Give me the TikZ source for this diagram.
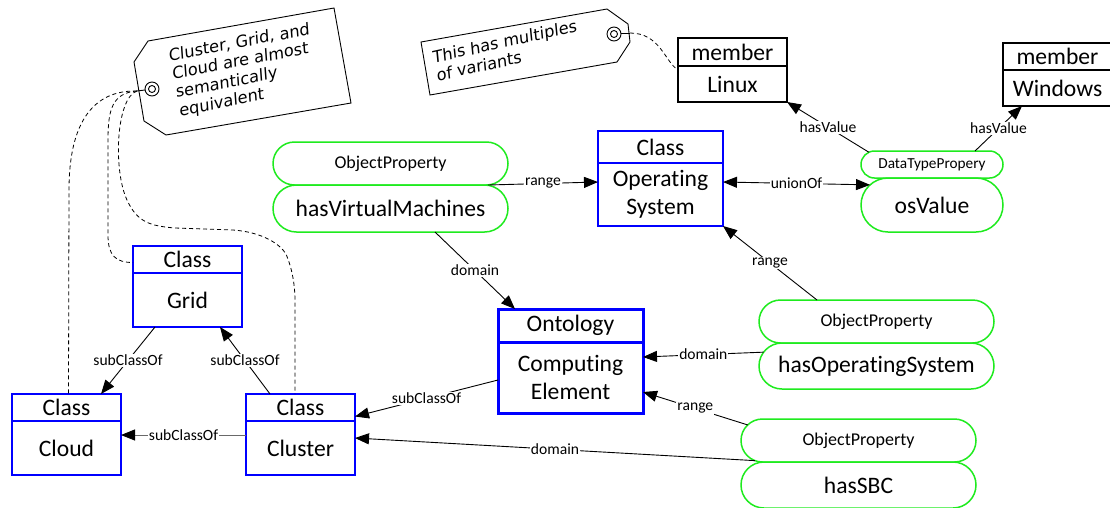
\documentclass[tikz,border=0pt]{standalone}
\usepackage{fontspec}
\setmainfont{Carlito}[Ligatures={NoCommon}]
\newfontfamily\handfont{DejaVu Sans}[FakeSlant=0.12]
\usetikzlibrary{arrows.meta,shapes.misc}

\definecolor{umlblue}{RGB}{0,0,255}
\definecolor{propgreen}{RGB}{30,235,30}
\definecolor{linkgray}{RGB}{105,105,105}

\tikzset{
  bigtxt/.style={font=\fontsize{23.6}{27.5}\selectfont},
  hdr/.style={draw=umlblue, line width=1.5pt, minimum width=109pt,
    inner sep=0pt, outer sep=0pt, bigtxt, align=center},
  ontobox/.style={hdr, line width=3pt, minimum width=145pt},
  memberbox/.style={hdr, draw=black},
  pill/.style={rounded rectangle, draw=propgreen, line width=1.5pt,
    inner sep=0pt, outer sep=0pt, minimum width=235pt},
  kindtxt/.style={font=\fontsize{18}{20}\selectfont},
  tip/.style={Triangle[length=14pt,width=11pt]},
  rel/.style={-{Triangle[length=14pt,width=11pt]}, line width=0.9pt},
  relboth/.style={{Triangle[length=14pt,width=11pt]}-{Triangle[length=14pt,width=11pt]}, line width=0.9pt},
  lbl/.style={font=\fontsize{15.6}{18}\selectfont, fill=white, inner sep=1pt},
  tagshape/.style={draw=black, line width=0.9pt, fill=white},
  tagline/.style={draw=black, line width=0.8pt, dash pattern=on 4pt off 3pt},
  tagtext/.style={font=\handfont\fontsize{16.3}{18.5}\selectfont,
    align=left, inner sep=0pt}
}

\begin{document}
\begin{tikzpicture}[x=1pt,y=-1pt]
\useasboundingbox (0,0) rectangle (1110,507);
\clip (0,0) rectangle (1110,507);
\fill[white] (0,0) rectangle (1110,507);

% ---- class boxes ----
\node[hdr, minimum height=27pt] (gridH) at (187.5,259.5) {Class};
\node[hdr, minimum height=54pt] (gridB) at (187.5,300) {Grid};
\node[hdr, minimum height=27pt] (cloudH) at (66.5,407.5) {Class};
\node[hdr, minimum height=54pt] (cloudB) at (66.5,448) {Cloud};
\node[hdr, minimum height=27pt] (clH) at (300.5,407.5) {Class};
\node[hdr, minimum height=54pt] (clB) at (300.5,448) {Cluster};
\node[hdr, minimum width=125pt, minimum height=32pt] (osH) at (660.5,147) {Class};
\node[hdr, minimum width=125pt, minimum height=63pt] (osB) at (660.5,194.5) {Operating\\System};
\node[ontobox, minimum height=33pt] (ontH) at (570.5,325.5) {Ontology};
\node[ontobox, minimum height=71pt] (ontB) at (570.5,377.5) {Computing\\Element};

% ---- enumeration members ----
\node[memberbox, minimum height=28pt] (linH) at (732.5,52) {member};
\node[memberbox, minimum height=36pt] (linB) at (732.5,84) {Linux};
\node[memberbox, minimum height=27pt] (winH) at (1057.5,56.5) {member};
\node[memberbox, minimum height=36pt] (winB) at (1057.5,88) {Windows};

% ---- properties ----
\node[pill, minimum height=43pt, kindtxt] (hvmT) at (390.5,163.5) {ObjectProperty};
\node[pill, minimum height=47pt, bigtxt] (hvmB) at (390.5,208.5) {hasVirtualMachines};
\node[pill, minimum width=142pt, minimum height=27pt, font=\fontsize{15.3}{17}\selectfont] (dtp) at (932,164.5) {DataTypePropery};
\node[pill, minimum width=142pt, minimum height=54pt, bigtxt] (osV) at (932,205) {osValue};
\node[pill, minimum height=43pt, kindtxt] (hosT) at (876.5,321.5) {ObjectProperty};
\node[pill, minimum height=46pt, bigtxt] (hosB) at (876.5,366) {hasOperatingSystem};
\node[pill, minimum height=43pt, kindtxt] (sbcT) at (858.5,440.5) {ObjectProperty};
\node[pill, minimum height=46pt, bigtxt] (sbcB) at (858.5,485) {hasSBC};

% ---- relations ----
\draw[rel] ([xshift=97.5pt]hvmT.south) -- node[lbl]{range} ([yshift=12.5pt]osB.west);
\draw[rel] ([xshift=44.5pt]hvmB.south) -- node[lbl]{domain} ([xshift=-55.5pt]ontH.north);
\draw[relboth] ([yshift=12.5pt]osB.east) -- node[lbl]{unionOf} (osV.162);
\draw[rel] (dtp.169) -- node[lbl]{hasValue} (linB.south east);
\draw[rel] ([xshift=43pt]dtp.north) -- node[lbl]{hasValue} ([xshift=19pt]winB.south west);
\draw[rel] ([xshift=-59.5pt]hosT.north) -- node[lbl]{range} (osB.south east);
\draw[rel] (hosB.173) -- node[lbl]{domain} ([yshift=20.5pt]ontB.east);
\draw[rel] (sbcT.172) -- node[lbl]{range} ([yshift=-14.5pt]ontB.east);
\draw[rel] (sbcT.191) -- node[lbl]{domain} ([yshift=10pt]clB.east);
\draw[rel] ([yshift=-2.5pt]ontB.west) -- node[lbl]{subClassOf} ([yshift=-9pt]clH.east);
\draw[rel, draw=linkgray, -{Triangle[length=14pt,width=11pt,color=black]}]
  ([yshift=13pt]clB.west) -- node[lbl]{subClassOf} ([yshift=13pt]cloudB.east);
\draw[rel] ([xshift=-32.5pt]gridB.south) -- node[lbl]{subClassOf} ([xshift=34.5pt]cloudH.north);
\draw[rel] ([xshift=-30.5pt]clH.north) -- node[lbl]{subClassOf} ([xshift=32.5pt]gridB.south);

% ---- note tags ----
\draw[tagshape] (148,41) -- (334,8) -- (351,103) -- (166,135) -- (144,121) -- (134,62) -- cycle;
\draw[line width=0.9pt] (152,89) circle[radius=7pt];
\draw[line width=0.9pt] (152,89) circle[radius=3.5pt];
\coordinate (hole1) at (137,91);
\draw[line width=0.9pt] (145,90) -- (hole1);
\node[tagtext, rotate=11, anchor=north west] (note1) at (166.7,49.2)
  {Cluster, Grid, and\\Cloud are almost\\semantically\\equivalent};

\draw[tagshape] (421,42) -- (607,9) -- (628,24) -- (630,42) -- (617,62) -- (430,95) -- cycle;
\draw[line width=0.9pt] (614,34) circle[radius=7pt];
\draw[line width=0.9pt] (614,34) circle[radius=3.5pt];
\coordinate (hole2) at (630,33);
\draw[line width=0.9pt] (621,33) -- (hole2);
\node[tagtext, rotate=12.5, anchor=north west] (note2) at (430.4,51.1)
  {This has multiples\\of variants};

% ---- note attachments ----
\draw[tagline] (hole1) .. controls (95,90) and (69,120) .. (69,190) -- ([xshift=2pt]cloudH.north);
\draw[tagline] (hole1) .. controls (112,93) and (108,110) .. (108,140) -- (108,235)
  .. controls (108,256) and (116,262.5) .. ([yshift=-3pt]gridH.west);
\draw[tagline] (hole1) .. controls (116,98) and (113,170) .. (127,200)
  .. controls (137,222) and (150,226) .. (175,228) -- (233,230)
  .. controls (262,232) and (280,244) .. (286,254)
  .. controls (292,268) and (295,285) .. (295,300) -- ([xshift=-5.5pt]clH.north);
\draw[tagline] (hole2) .. controls (660,33) and (665,62) .. ([yshift=14pt]linB.west);
\end{tikzpicture}
\end{document}
